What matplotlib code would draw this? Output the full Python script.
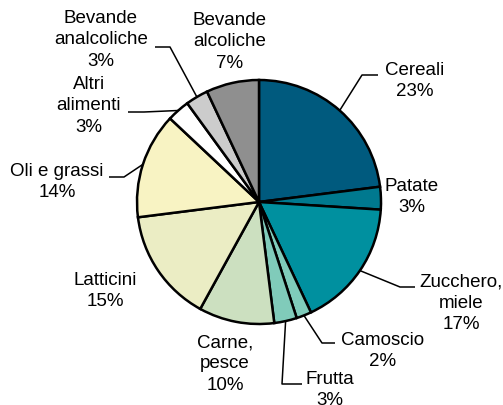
import numpy as np
import matplotlib.pyplot as plt

plt.rcParams['font.family'] = ['Liberation Sans', 'DejaVu Sans']

# Data
categories = ['Cereali', 'Patate', 'Zucchero,\nmiele', 'Camoscio', 'Frutta',
              'Carne,\npesce', 'Latticini', 'Oli e grassi', 'Altri\nalimenti',
              'Bevande\nanalcoliche', 'Bevande\nalcoliche']
values = [23, 3, 17, 2, 3, 10, 15, 14, 3, 3, 7]
colors = ['#005A7E', '#00798F', '#00909F', '#7FCCBB', '#80CBBA', '#CCE0C0',
          '#EBEDC4', '#F8F3C3', '#FFFFFF', '#CCCCCC', '#8F8F8F']

# Layout (pixel coordinates, y down)
cx, cy, radius = 259, 202, 122
label_pos = [(415, 81), (412, 197), (461, 303), (383, 351), (330, 390),
             (225, 364), (105, 291), (57, 182), (89, 106), (101, 40), (230, 42)]
# elbow and end points for leader lines (None = no leader)
leaders = [[(362, 75), (378, 75)], None, [(400, 287), (415, 287)],
           [(322, 343), (335, 343)], [(282, 384), (302, 384)], None, None,
           [(124, 177), (109, 177)], [(144, 112), (128, 112)],
           [(170, 47), (155, 47)], None]

fig = plt.figure(figsize=(5.03, 4.05), dpi=100)
ax = fig.add_axes([0, 0, 1, 1])

wedges, _ = ax.pie(values, colors=colors, center=(cx, cy), radius=radius,
                   startangle=-90, counterclock=True,
                   wedgeprops=dict(edgecolor='black', linewidth=1.8))

total = float(sum(values))
cum = 0.0
for i, (name, v) in enumerate(zip(categories, values)):
    mid = -90 + (cum + v / 2) / total * 360
    cum += v
    pct = f'{v / total * 100:.0f}%'
    lx, ly = label_pos[i]
    ax.text(lx, ly, f'{name}\n{pct}', ha='center', va='center', fontsize=13.5,
            linespacing=1.32, color='black')
    if leaders[i] is not None:
        sx = cx + radius * np.cos(np.radians(mid))
        sy = cy + radius * np.sin(np.radians(mid))
        pts = [(sx, sy)] + leaders[i]
        ax.plot([p[0] for p in pts], [p[1] for p in pts], color='black',
                linewidth=1.1, solid_capstyle='butt')

ax.set_xlim(0, 503)
ax.set_ylim(405, 0)
ax.set_aspect('auto')
ax.axis('off')

fig.savefig('out.png', dpi=100)
